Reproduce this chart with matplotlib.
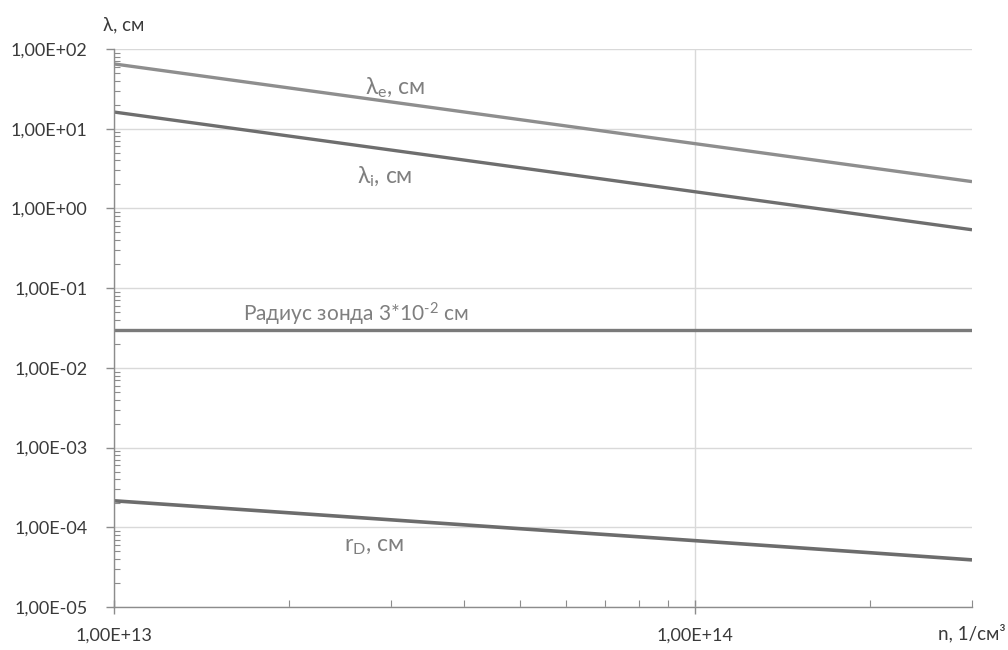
import matplotlib
matplotlib.use("Agg")
import matplotlib.pyplot as plt
from matplotlib.ticker import LogLocator, FixedLocator, FuncFormatter, NullFormatter

plt.rcParams['font.family'] = ['Lato', 'Noto Sans', 'DejaVu Sans']
plt.rcParams['mathtext.fontset'] = 'custom'
plt.rcParams['mathtext.rm'] = 'Lato'
plt.rcParams['mathtext.it'] = 'Lato:italic'

# Data
n_vals = [1e13, 2e13, 5e13, 1e14, 2e14, 3e14]
lambda_e = [65, 32.5, 13.0, 6.5, 3.25, 2.17]
lambda_i = [16.2, 8.1, 3.24, 1.62, 0.81, 0.54]
probe_r = [3e-2, 3e-2, 3e-2, 3e-2, 3e-2, 3e-2]
r_D = [2.15e-4, 1.52e-4, 9.6e-5, 6.8e-5, 4.8e-5, 3.9e-5]

y_ticks = [1e-5, 1e-4, 1e-3, 1e-2, 1e-1, 1e0, 1e1, 1e2]
x_ticks = [1e13, 1e14]

fig = plt.figure(figsize=(10.08, 6.5), dpi=100)
ax = fig.add_axes([114/1008, 1-607/650, (972-114)/1008, (607-49)/650])

ax.plot(n_vals, lambda_e, color='#8e8e8e', lw=2.4, solid_capstyle='butt')
ax.plot(n_vals, lambda_i, color='#6e6e6e', lw=2.4, solid_capstyle='butt')
ax.plot(n_vals, probe_r, color='#7a7a7a', lw=2.4, solid_capstyle='butt')
ax.plot(n_vals, r_D, color='#6c6c6c', lw=2.6, solid_capstyle='butt')

ax.set_xscale('log')
ax.set_yscale('log')
ax.set_xlim(1e13, 3e14)
ax.set_ylim(1e-5, 1e2)

def fmt(v, pos):
    s = '%.2E' % v
    return s.replace('.', ',')

ax.yaxis.set_major_locator(FixedLocator(y_ticks))
ax.yaxis.set_major_formatter(FuncFormatter(fmt))
ax.yaxis.set_minor_locator(LogLocator(base=10, subs=range(2, 10), numticks=20))
ax.yaxis.set_minor_formatter(NullFormatter())
ax.xaxis.set_major_locator(FixedLocator(x_ticks))
ax.xaxis.set_major_formatter(FuncFormatter(fmt))
ax.xaxis.set_minor_locator(LogLocator(base=10, subs=range(2, 10), numticks=20))
ax.xaxis.set_minor_formatter(NullFormatter())

ax.grid(True, which='major', color='#d9d9d9', lw=1.0)
ax.set_axisbelow(True)
for s in ['top', 'right']:
    ax.spines[s].set_visible(False)
for s in ['left', 'bottom']:
    ax.spines[s].set_color('#8c8c8c')
    ax.spines[s].set_linewidth(1.0)

ax.tick_params(axis='y', which='major', direction='out', length=6, width=1,
               color='#8c8c8c', labelsize=13, labelcolor='#3a3a3a', pad=13)
ax.tick_params(axis='y', which='minor', direction='in', length=4, width=0.8,
               color='#8c8c8c')
ax.tick_params(axis='x', which='major', direction='inout', length=10, width=1,
               color='#8c8c8c', labelsize=13, labelcolor='#3a3a3a', pad=10)
ax.tick_params(axis='x', which='minor', direction='in', length=5, width=0.8,
               color='#8c8c8c')

lab_col = '#7f7f7f'
fig.text(365/1008, 1-94/650, r'λ$_{\mathregular{e}}$, см', fontsize=16.5, color=lab_col, va='baseline', ha='left')
fig.text(357/1008, 1-183/650, r'λ$_{\mathregular{i}}$, см', fontsize=16.5, color=lab_col, va='baseline', ha='left')
fig.text(356/1008, 1-321/650, r'Радиус зонда 3*10$^{\text{-2}}$ см', fontsize=15, color=lab_col, va='baseline', ha='center')
fig.text(344/1008, 1-551/650, r'r$_{\mathregular{D}}$, см', fontsize=16.5, color=lab_col, va='baseline', ha='left')

fig.text(103/1008, 1-25/650, 'λ, см', fontsize=13.5, color='#3a3a3a', va='center', ha='left')
fig.text(1006/1008, 1-633/650, 'n, 1/см³', fontsize=13.5, color='#3a3a3a', va='center', ha='right')

fig.savefig('out.png', dpi=100)
